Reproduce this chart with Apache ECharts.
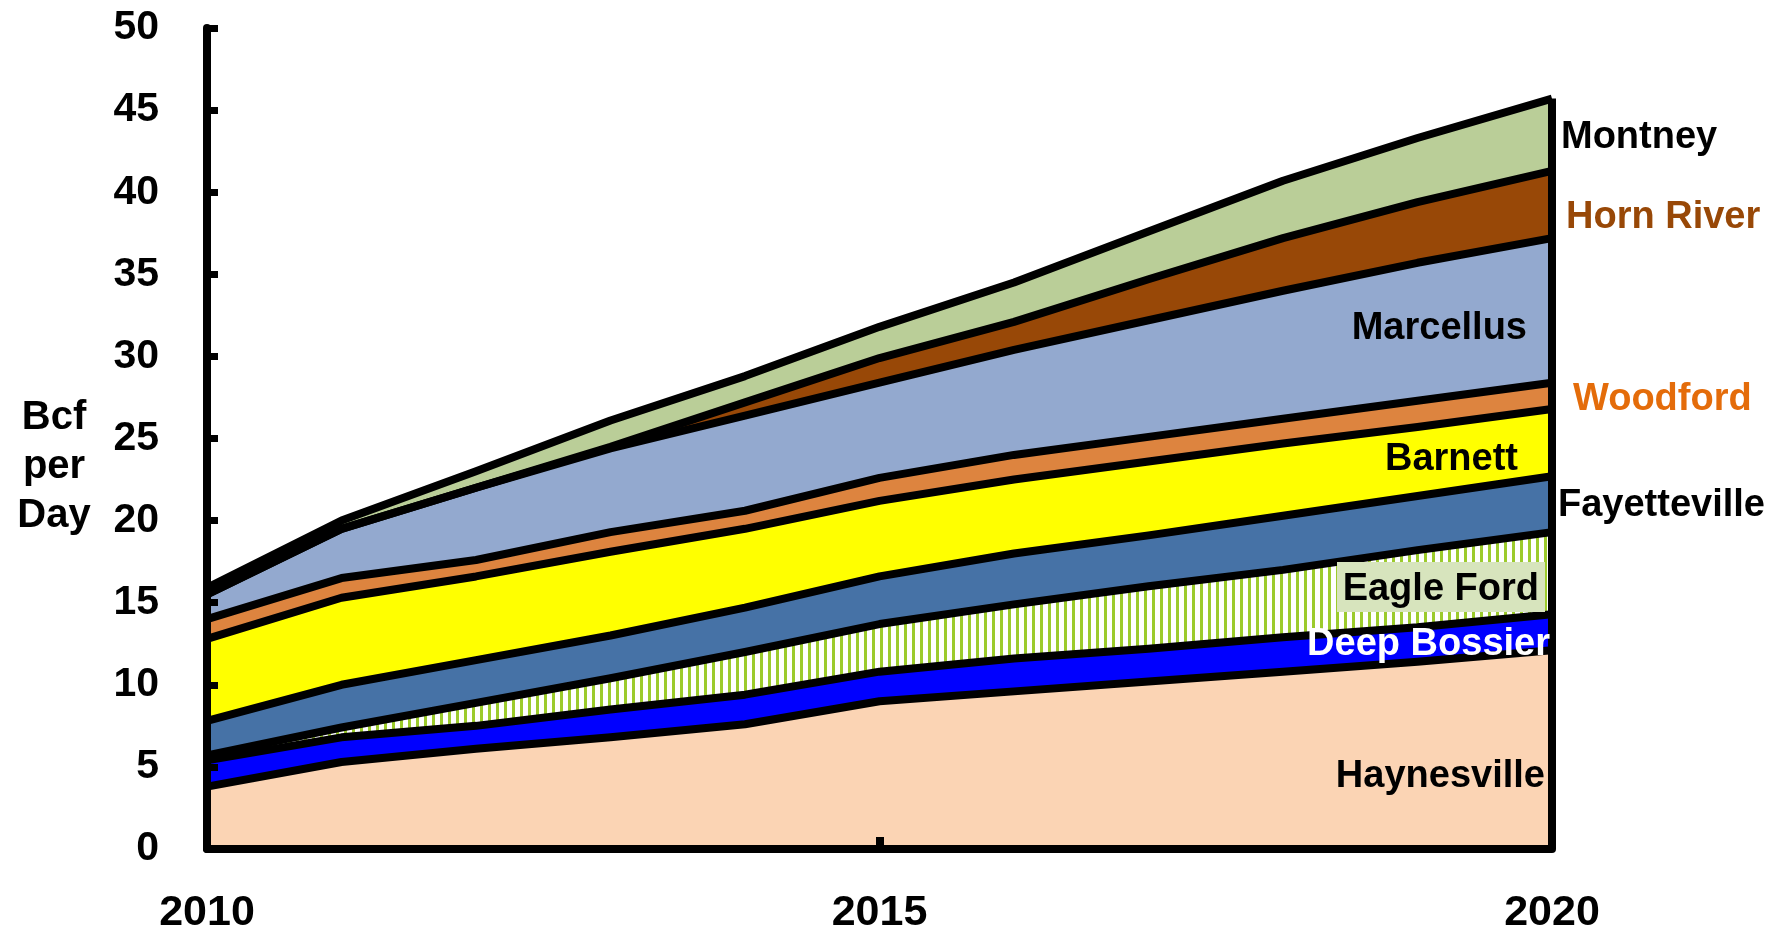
<!DOCTYPE html>
<html>
<head>
    <meta charset="UTF-8">
    <title>Shale gas production</title>
    <style>
        html, body { margin: 0; padding: 0; background: #fff; }
        #main { width: 1767px; height: 935px; }
    </style>
    <script src="https://cdn.jsdelivr.net/npm/echarts@6/dist/echarts.min.js"></script>
</head>
<body>
<div id="main"></div>
<script type="text/javascript">
    // data, Bcf per day (stack order bottom -> top)
    var years = ['2010', '2011', '2012', '2013', '2014', '2015', '2016', '2017', '2018', '2019', '2020'];
    var yTicks = [0, 50, 5];  // min, max, step

    var haynesville  = [3.8, 5.3, 6.1, 6.8, 7.6, 9.0, 9.6, 10.2, 10.8, 11.4, 12.1];
    var deepBossier  = [1.6, 1.5, 1.4, 1.7, 1.8, 1.8, 2.0, 2.0, 2.1, 2.1, 2.2];
    var eagleFord    = [0.3, 0.6, 1.4, 1.9, 2.6, 2.9, 3.3, 3.8, 4.1, 4.7, 5.0];
    var fayetteville = [2.1, 2.6, 2.6, 2.6, 2.7, 2.9, 3.1, 3.1, 3.3, 3.3, 3.4];
    var barnett      = [5.0, 5.3, 5.1, 5.1, 4.8, 4.6, 4.5, 4.5, 4.4, 4.2, 4.1];
    var woodford     = [1.2, 1.2, 1.0, 1.2, 1.1, 1.4, 1.5, 1.5, 1.5, 1.6, 1.6];
    var marcellus    = [1.5, 3.0, 4.4, 5.1, 5.8, 5.8, 6.4, 7.1, 7.8, 8.4, 8.8];
    var hornRiver    = [0.0, 0.0, 0.0, 0.1, 0.8, 1.5, 1.7, 2.5, 3.2, 3.7, 4.1];
    var montney      = [0.4, 0.5, 1.0, 1.6, 1.6, 1.9, 2.4, 2.9, 3.5, 3.9, 4.4];

    var plays = [
        { name: 'Haynesville',  data: haynesville,  color: '#FBD4B4' },
        { name: 'Deep Bossier', data: deepBossier,  color: '#0000FF' },
        { name: 'Eagle Ford',   data: eagleFord,    color: 'hatch' },
        { name: 'Fayetteville', data: fayetteville, color: '#4672A6' },
        { name: 'Barnett',      data: barnett,      color: '#FFFF00' },
        { name: 'Woodford',     data: woodford,     color: '#DD843F' },
        { name: 'Marcellus',    data: marcellus,    color: '#93A9CF' },
        { name: 'Horn River',   data: hornRiver,    color: '#984807' },
        { name: 'Montney',      data: montney,      color: '#BACE98' }
    ];

    // vertical green stripes for Eagle Ford
    function hatch() {
        var c = document.createElement('canvas');
        c.width = 8;
        c.height = 8;
        var ctx = c.getContext('2d');
        ctx.fillStyle = '#ffffff';
        ctx.fillRect(0, 0, 8, 8);
        ctx.fillStyle = '#9CCB2C';
        ctx.fillRect(0, 0, 3, 8);
        return { image: c, repeat: 'repeat' };
    }

    var last = years.length - 1;
    var total = 0;
    plays.forEach(function (p) { total += p.data[last]; });

    var series = [];
    // filled areas (no edges, so the edges below are not half covered)
    plays.forEach(function (p) {
        series.push({
            name: p.name,
            type: 'line',
            stack: 'area',
            symbol: 'none',
            silent: true,
            z: 2,
            lineStyle: { width: 0 },
            areaStyle: { color: p.color === 'hatch' ? hatch() : p.color, opacity: 1 },
            data: p.data
        });
    });
    // black edges on top
    plays.forEach(function (p, i) {
        var s = {
            name: p.name + ' edge',
            type: 'line',
            stack: 'edge',
            symbol: 'none',
            silent: true,
            z: 3,
            lineStyle: { color: '#000', width: 8, join: 'round' },
            data: p.data
        };
        if (i === plays.length - 1) {
            s.markLine = {
                symbol: 'none',
                silent: true,
                label: { show: false },
                lineStyle: { color: '#000', width: 8, type: 'solid' },
                data: [[{ coord: [last, 0] }, { coord: [last, total] }]]
            };
        }
        series.push(s);
    });

    var font = '"Liberation Sans", Arial, sans-serif';

    function label(text, x, y, align, color, size) {
        return {
            type: 'text',
            x: x,
            y: y,
            z: 10,
            style: {
                text: text,
                fill: color || '#000',
                font: 'bold ' + (size || 38) + 'px ' + font,
                align: align,
                verticalAlign: 'middle'
            }
        };
    }

    var myChart = echarts.init(document.getElementById('main'));
    var option = {
        animation: false,
        backgroundColor: '#fff',
        grid: { left: 207, right: 215, top: 28, bottom: 84 },
        xAxis: {
            type: 'category',
            boundaryGap: false,
            data: years,
            z: 5,
            axisLine: { lineStyle: { color: '#000', width: 8 } },
            axisTick: { inside: true, length: 12, interval: 4, lineStyle: { color: '#000', width: 8 } },
            axisLabel: { interval: 4, margin: 43, color: '#000', fontSize: 43, fontWeight: 'bold', fontFamily: font },
            splitLine: { show: false }
        },
        yAxis: {
            type: 'value',
            min: yTicks[0],
            max: yTicks[1],
            interval: yTicks[2],
            z: 5,
            axisLine: { show: true, lineStyle: { color: '#000', width: 8 } },
            axisTick: { show: true, inside: true, length: 11, lineStyle: { color: '#000', width: 7 } },
            axisLabel: { margin: 48, color: '#000', fontSize: 41, fontWeight: 'bold', fontFamily: font },
            splitLine: { show: false }
        },
        series: series,
        graphic: [
            label('Bcf', 54, 418, 'center', '#000', 40),
            label('per', 54, 467, 'center', '#000', 40),
            label('Day', 54, 516, 'center', '#000', 40),
            label('Montney', 1561, 138, 'left'),
            label('Horn River', 1566, 218, 'left', '#984807'),
            label('Marcellus', 1527, 329, 'right'),
            label('Woodford', 1573, 400, 'left', '#E46C0A'),
            label('Barnett', 1518, 460, 'right'),
            label('Fayetteville', 1558, 506, 'left'),
            {
                type: 'rect',
                z: 9,
                shape: { x: 1337, y: 562, width: 208, height: 50 },
                style: { fill: '#D7E4BD' }
            },
            label('Eagle Ford', 1539, 590, 'right'),
            label('Deep Bossier', 1550, 645, 'right', '#fff'),
            label('Haynesville', 1545, 777, 'right')
        ]
    };
    myChart.setOption(option);
</script>
</body>
</html>
